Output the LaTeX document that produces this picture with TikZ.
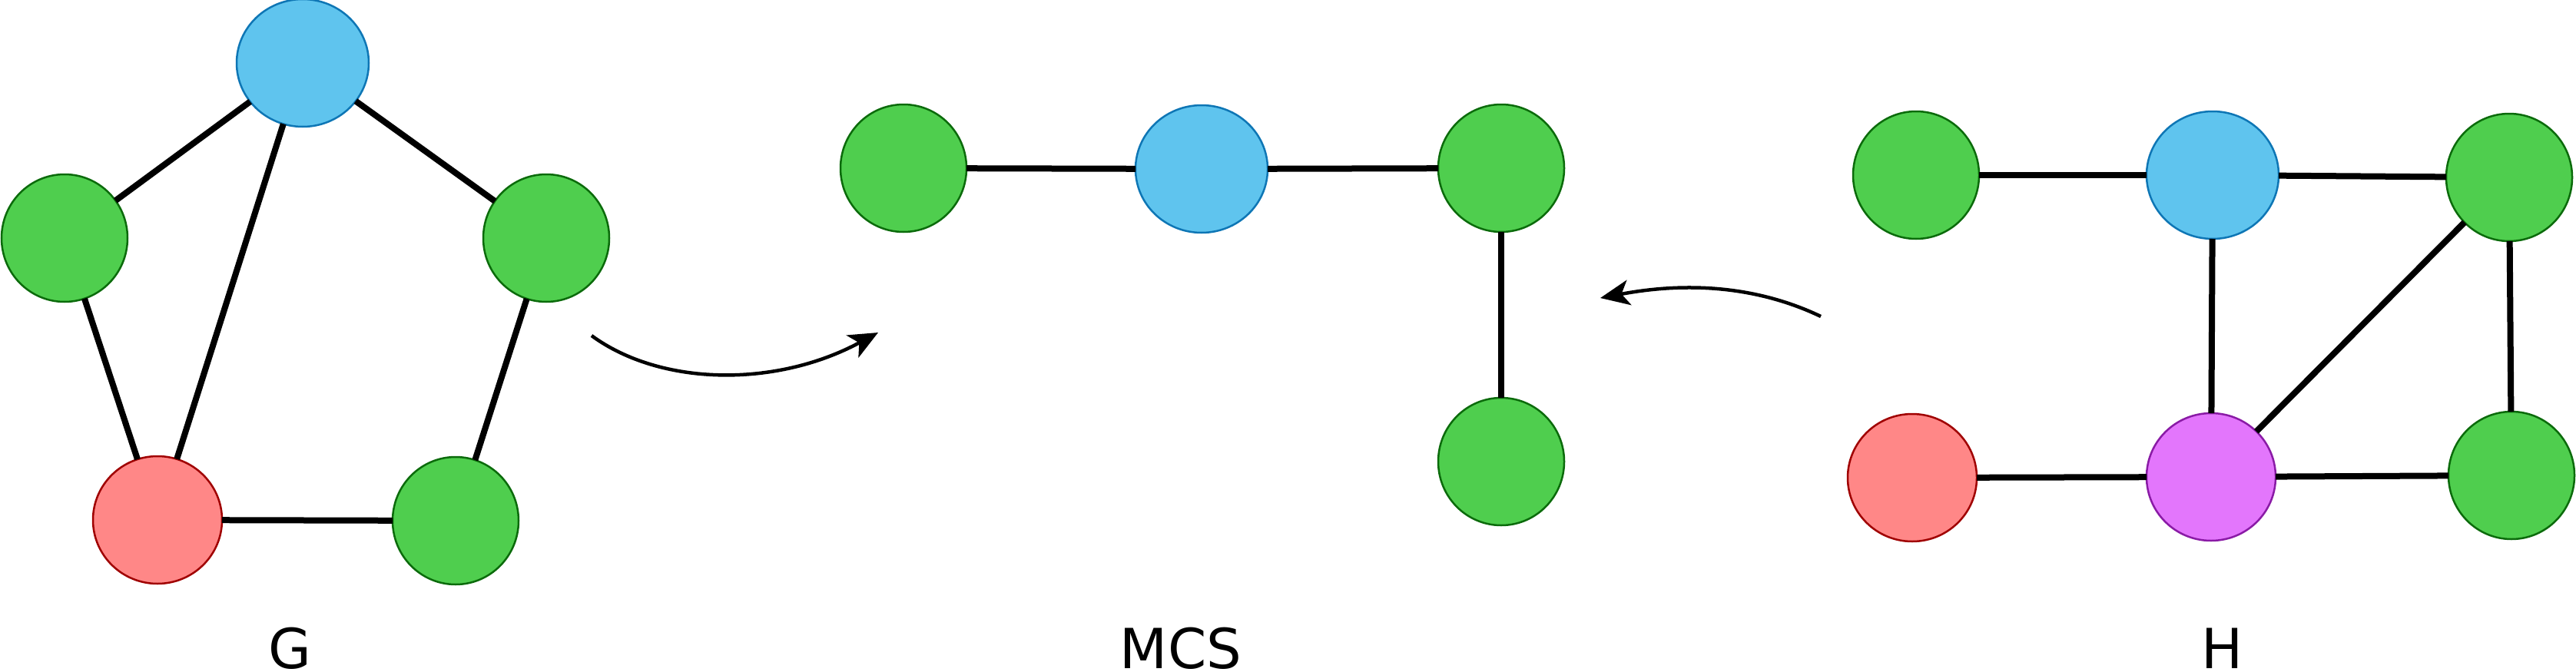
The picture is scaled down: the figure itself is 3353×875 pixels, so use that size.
\documentclass[tikz,border=0pt]{standalone}
\usepackage{fontspec}
\setmainfont{DejaVu Sans}
\usetikzlibrary{shapes.geometric,arrows.meta}
\definecolor{gfill}{HTML}{4FCE4E}
\definecolor{gline}{HTML}{0B6B0B}
\definecolor{bfill}{HTML}{5FC4EE}
\definecolor{bline}{HTML}{0E76B5}
\definecolor{rfill}{HTML}{FF8787}
\definecolor{rline}{HTML}{A00000}
\definecolor{pfill}{HTML}{E376FC}
\definecolor{pline}{HTML}{8A1BA6}
\begin{document}
\begin{tikzpicture}[x=1pt,y=-1pt,
  vtx/.style={ellipse,inner sep=0pt,outer sep=0pt,line width=2.5pt,minimum height=166pt},
  gnode/.style={vtx,draw=gline,fill=gfill,minimum width=164pt},
  bnode/.style={vtx,draw=bline,fill=bfill,minimum width=172pt},
  rnode/.style={vtx,draw=rline,fill=rfill,minimum width=168pt},
  pnode/.style={vtx,draw=pline,fill=pfill,minimum width=168pt},
  edge/.style={line width=8pt,black},
  flow/.style={line width=4.5pt,black,-{Stealth[length=38pt,width=33pt,inset=10pt]}},
  lbl/.style={anchor=base,inner sep=0pt,font=\fontsize{72}{86}\selectfont}]
\useasboundingbox (0,0) rectangle (3353,875);

% Graph G
\node[bnode] (gB) at (394,82) {};
\node[gnode] (gL) at (84,310) {};
\node[gnode] (gR) at (711,310) {};
\node[rnode] (gRed) at (205,677) {};
\node[gnode] (gG) at (593,678) {};
\node[lbl] (labG) at (377,870) {G};

% MCS
\node[gnode] (m1) at (1176,219) {};
\node[bnode] (m2) at (1564,220) {};
\node[gnode] (m3) at (1954,219) {};
\node[gnode] (m4) at (1954,601) {};
\node[lbl] (labM) at (1537,870) {MCS};

% Graph H
\node[gnode] (h1) at (2494,228) {};
\node[bnode] (h2) at (2880,228) {};
\node[gnode] (h3) at (3266,231) {};
\node[rnode] (h4) at (2489,622) {};
\node[pnode] (h5) at (2878,621) {};
\node[gnode] (h6) at (3269,619) {};
\node[lbl] (labH) at (2893,870) {H};

\draw[edge] (gB) -- (gL);
\draw[edge] (gB) -- (gR);
\draw[edge] (gB) -- (gRed);
\draw[edge] (gL) -- (gRed);
\draw[edge] (gR) -- (gG);
\draw[edge] (gRed) -- (gG);

\draw[edge] (m1) -- (m2);
\draw[edge] (m2) -- (m3);
\draw[edge] (m3) -- (m4);

\draw[edge] (h1) -- (h2);
\draw[edge] (h2) -- (h3);
\draw[edge] (h2) -- (h5);
\draw[edge] (h3) -- (h5);
\draw[edge] (h3) -- (h6);
\draw[edge] (h4) -- (h5);
\draw[edge] (h5) -- (h6);

% arrows
\coordinate (a1s) at (770,437);
\coordinate (a1e) at (1143,433);
\draw[flow] (a1s) .. controls (860,503) and (1010,505) .. (a1e);
\coordinate (a2s) at (2370,412);
\coordinate (a2e) at (2083,388);
\draw[flow] (a2s) .. controls (2265,362) and (2163,373) .. (a2e);
\end{tikzpicture}
\end{document}
